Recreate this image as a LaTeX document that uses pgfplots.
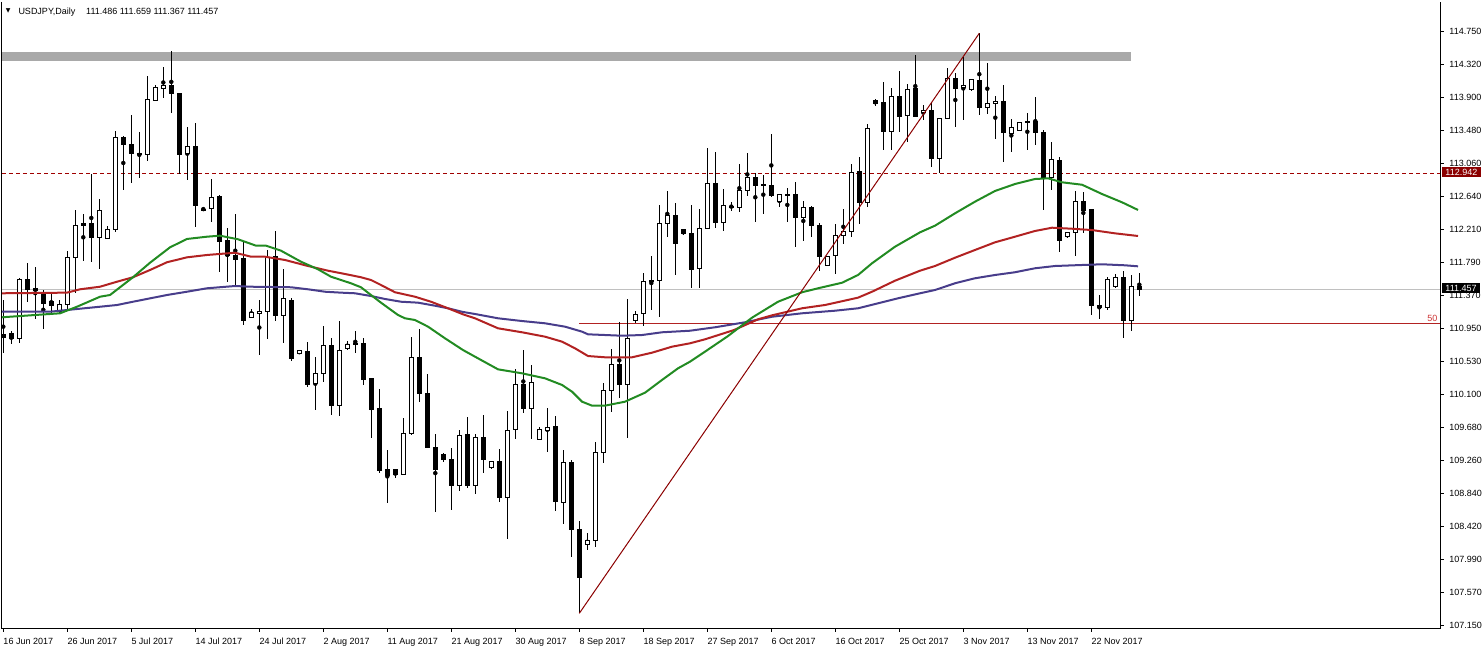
\documentclass[border=0pt]{standalone}
\usepackage{pgfplots}
\pgfplotsset{compat=1.18}
\usepackage{pgfplotstable}
\usepackage{fontspec}
\setmainfont{Liberation Sans}
\newfontfamily\dejavu{DejaVu Sans}
\definecolor{magreen}{HTML}{228B22}
\definecolor{mared}{HTML}{B22222}
\definecolor{manavy}{HTML}{483D8B}
\definecolor{dkred}{HTML}{8B0000}
\definecolor{dashred}{HTML}{A00000}
\definecolor{fibred}{HTML}{B22222}
\definecolor{fibtxt}{HTML}{CD3333}
\definecolor{bandgray}{HTML}{A9A9A9}
\definecolor{bidgray}{HTML}{C0C0C0}

\pgfplotstableread{
i o h l c
0 110.882 111.317 110.635 110.835
1 110.891 110.921 110.750 110.827
2 110.827 111.599 110.771 111.573
3 111.573 111.794 111.295 111.454
4 111.462 111.739 111.070 111.436
5 111.411 111.445 110.942 111.275
6 111.292 111.423 111.155 111.244
7 111.167 111.317 111.138 111.262
8 111.262 111.948 111.189 111.863
9 111.863 112.469 111.403 112.273
10 112.290 112.418 111.820 112.273
11 112.290 112.929 111.807 112.119
12 112.119 112.609 111.718 112.465
13 112.107 112.264 112.107 112.222
14 112.222 113.479 112.191 113.399
15 113.399 113.415 112.728 113.309
16 113.309 113.684 112.818 113.194
17 113.194 113.467 112.882 113.181
18 113.181 114.183 113.099 113.885
19 113.872 114.068 113.872 114.039
20 114.021 114.298 113.906 114.064
21 114.064 114.503 113.714 113.957
22 113.962 113.962 112.925 113.176
23 113.194 113.527 112.853 113.279
24 113.284 113.582 112.255 112.524
25 112.481 112.503 112.460 112.460
26 112.490 112.865 112.319 112.631
27 112.635 112.661 111.679 112.063
28 112.072 112.235 111.551 111.884
29 111.887 112.418 111.480 111.829
30 111.842 112.063 110.997 111.061
31 111.096 111.198 111.096 111.160
32 111.147 111.317 110.613 111.172
33 111.167 111.957 110.818 111.863
34 111.871 112.204 111.052 111.116
35 111.116 111.714 110.771 111.330
36 111.317 111.339 110.540 110.566
37 110.635 110.665 110.635 110.665
38 110.661 110.776 110.208 110.242
39 110.251 110.584 109.910 110.379
40 110.379 110.984 110.268 110.737
41 110.741 110.827 109.850 109.965
42 109.965 111.048 109.837 110.674
43 110.694 110.792 110.677 110.750
44 110.763 110.921 110.643 110.745
45 110.763 110.831 110.233 110.306
46 110.315 110.315 109.555 109.914
47 109.931 110.174 109.107 109.133
48 109.142 109.398 108.724 109.069
49 109.151 109.151 109.043 109.082
50 109.087 109.807 109.087 109.612
51 109.606 110.844 109.590 110.584
52 110.584 110.946 110.016 110.118
53 110.123 110.370 109.420 109.427
54 109.432 109.603 108.601 109.151
55 109.334 109.356 109.248 109.274
56 109.279 109.420 108.630 108.941
57 108.941 109.654 108.877 109.586
58 109.590 109.824 108.916 108.941
59 108.941 109.603 108.839 109.560
60 109.560 109.846 109.107 109.279
61 109.171 109.253 109.155 109.253
62 109.257 109.411 108.736 108.788
63 108.788 109.897 108.263 109.641
64 109.663 110.430 109.535 110.242
65 110.242 110.677 109.875 109.926
66 109.926 110.485 109.535 110.264
67 109.535 109.688 109.535 109.654
68 109.650 109.939 109.376 109.688
69 109.696 109.833 108.621 108.736
70 108.724 109.398 108.447 109.244
71 109.244 109.270 108.033 108.378
72 108.387 108.489 107.308 107.764
73 108.191 108.332 108.118 108.246
74 108.242 109.500 108.161 109.368
75 109.363 110.251 109.235 110.153
76 110.162 110.686 109.888 110.494
77 110.494 111.032 110.059 110.238
78 110.238 111.326 109.547 110.827
79 111.061 111.176 111.027 111.134
80 111.138 111.659 110.988 111.556
81 111.569 111.880 111.189 111.551
82 111.564 112.529 111.103 112.298
83 112.298 112.712 112.127 112.396
84 112.401 112.558 111.641 112.037
85 112.222 112.222 112.149 112.170
86 112.170 112.533 111.467 111.710
87 111.718 112.481 111.467 112.235
88 112.235 113.266 112.235 112.810
89 112.810 113.211 112.242 112.311
90 112.311 112.737 112.204 112.520
91 112.498 112.567 112.460 112.511
92 112.503 113.057 112.439 112.721
93 112.721 113.198 112.652 112.887
94 112.887 112.946 112.319 112.785
95 112.789 112.917 112.414 112.776
96 112.785 113.441 112.639 112.652
97 112.580 112.670 112.503 112.670
98 112.673 112.750 112.319 112.652
99 112.661 112.827 111.991 112.375
100 112.375 112.580 112.076 112.503
101 112.503 112.524 112.119 112.268
102 112.273 112.306 111.688 111.871
103 111.761 111.871 111.761 111.871
104 111.889 112.290 111.646 112.145
105 112.145 112.481 112.030 112.196
106 112.191 113.057 112.127 112.951
107 112.964 113.147 112.286 112.562
108 112.562 113.569 112.511 113.514
109 113.867 113.893 113.803 113.829
110 113.838 114.106 113.236 113.470
111 113.470 114.034 113.236 113.923
112 113.927 114.247 113.470 113.671
113 113.675 114.085 113.335 114.013
114 114.017 114.452 113.655 113.671
115 113.719 113.812 113.620 113.748
116 113.748 113.842 113.023 113.130
117 113.130 113.642 112.946 113.642
118 113.633 114.282 113.633 114.154
119 114.154 114.218 113.535 114.021
120 114.034 114.430 113.620 114.064
121 114.004 114.141 113.991 114.132
122 114.128 114.730 113.684 113.778
123 113.778 114.346 113.697 113.834
124 113.834 113.927 113.377 113.863
125 113.863 114.068 113.087 113.458
126 113.450 113.629 113.215 113.527
127 113.488 113.586 113.488 113.586
128 113.607 113.706 113.236 113.586
129 113.607 113.911 113.300 113.463
130 113.463 113.492 112.469 112.882
131 112.882 113.339 112.725 113.117
132 113.108 113.147 111.935 112.076
133 112.127 112.187 112.107 112.187
134 112.178 112.716 111.880 112.580
135 112.580 112.695 112.170 112.460
136 112.469 112.469 111.125 111.244
137 111.253 111.381 111.070 111.224
138 111.224 111.615 111.189 111.573
139 111.487 111.650 111.467 111.599
140 111.599 111.692 110.835 111.052
141 111.052 111.637 110.924 111.496
142 111.486 111.659 111.367 111.457
}\ohlc

\pgfplotsset{mtbase/.style={
  at={(2pt,21pt)}, anchor=south west, scale only axis,
  width=1438pt, height=626pt,
  xmin=-0.1625, xmax=179.5875, ymin=107.1203, ymax=115.1300,
}}

\begin{document}
\begin{tikzpicture}
\useasboundingbox (0,0) rectangle (1482pt,649pt);
% layer 1: frame, ticks, objects, wicks
\begin{axis}[mtbase, clip=false,
  axis line style={draw=none},
  tick align=outside, major tick length=3.5pt,
  tick style={black, line width=1pt},
  xtick pos=left, xticklabel pos=left,
  ytick pos=right, yticklabel pos=right,
  xtick={0,8,...,136},
  xticklabels={16 Jun 2017,26 Jun 2017,5 Jul 2017,14 Jul 2017,24 Jul 2017,2 Aug 2017,11 Aug 2017,21 Aug 2017,30 Aug 2017,8 Sep 2017,18 Sep 2017,27 Sep 2017,6 Oct 2017,16 Oct 2017,25 Oct 2017,3 Nov 2017,13 Nov 2017,22 Nov 2017},
  ytick={107.150,107.572,107.994,108.417,108.839,109.261,109.683,110.106,110.528,110.950,111.372,111.795,112.217,112.639,113.061,113.484,113.906,114.328,114.750},
  yticklabels={107.150,107.570,107.990,108.420,108.840,109.260,109.680,110.100,110.530,110.950,111.370,111.790,112.210,112.640,113.060,113.480,113.900,114.320,114.750},
  tick label style={font=\fontsize{9}{10}\selectfont, inner sep=0pt},
  xticklabel style={anchor=base west, yshift=-12.7pt},
  yticklabel style={anchor=base west, xshift=5.7pt, yshift=-3.2pt},
]
\addplot[draw=none, fill=bandgray] coordinates {(-0.1625,114.379) (140.96,114.379) (140.96,114.486) (-0.1625,114.486)} -- cycle;
\addplot[bidgray, line width=1pt] coordinates {(-0.1625,111.457) (179.5875,111.457)};
\addplot[dashred, line width=1pt, dash pattern=on 4pt off 3pt] coordinates {(-0.1625,112.942) (179.5875,112.942)};
\addplot[fibred, line width=1pt] coordinates {(72,111.019) (179.5875,111.019)};
\addplot[only marks, mark=none, error bars/.cd, y dir=both, y explicit, error mark=none,
  error bar style={draw=black, line width=1pt, solid}]
  table[x=i, y expr={(\thisrow{h}+\thisrow{l})/2}, y error expr={(\thisrow{h}-\thisrow{l})/2}] {\ohlc};
\draw[black, line width=1pt] (rel axis cs:0,1) -- (rel axis cs:0,0) -- (rel axis cs:1,0) -- (rel axis cs:1,1);
\end{axis}
% layer 2: candle bodies
\begin{axis}[mtbase, hide axis, ybar stacked, bar width=3.5pt]
\addplot[draw=none, fill=none] table[x=i, y expr={min(\thisrow{o},\thisrow{c})}] {\ohlc};
\addplot[draw=black, fill=white, line width=1pt] table[x=i, y expr={\thisrow{c}<\thisrow{o} ? 0 : \thisrow{c}-\thisrow{o}}] {\ohlc};
\addplot[draw=black, fill=black, line width=1pt] table[x=i, y expr={\thisrow{c}<\thisrow{o} ? \thisrow{o}-\thisrow{c} : 0}] {\ohlc};
\end{axis}
% layer 3: moving averages and trend line
\begin{axis}[mtbase, hide axis]
\addplot[manavy, line width=2pt, line join=round] coordinates {(-0.16,111.167) (5.84,111.167) (7.96,111.189) (12.09,111.231) (14.21,111.253) (16.21,111.295) (20.46,111.381) (22.96,111.423) (25.46,111.467) (28.96,111.496) (30.96,111.487) (35.96,111.480) (38.09,111.454) (40.21,111.423) (42.21,111.411) (43.96,111.403) (45.96,111.368) (47.71,111.330) (49.71,111.295) (51.84,111.283) (53.96,111.244) (55.59,111.211) (57.46,111.164) (58.96,111.138) (61.84,111.083) (64.84,111.048) (67.71,111.019) (70.21,110.976) (72.34,110.912) (73.09,110.878) (77.34,110.860) (79.84,110.869) (82.34,110.904) (85.84,110.924) (88.96,110.968) (92.71,111.032) (96.09,111.103) (99.84,111.147) (103.96,111.180) (106.84,111.211) (109.34,111.275) (111.84,111.339) (114.59,111.403) (116.46,111.445) (118.96,111.531) (121.46,111.595) (123.96,111.637) (126.46,111.672) (128.96,111.723) (131.46,111.752) (134.84,111.765) (137.34,111.774) (140.21,111.761) (141.84,111.748)};
\addplot[mared, line width=2pt, line join=round] coordinates {(-0.16,111.403) (7.96,111.411) (9.59,111.454) (12.09,111.487) (14.21,111.551) (16.21,111.608) (18.34,111.701) (20.46,111.800) (22.96,111.863) (25.46,111.893) (28.96,111.922) (30.96,111.871) (32.71,111.871) (35.21,111.829) (38.09,111.752) (40.59,111.692) (42.71,111.650) (44.71,111.608) (45.96,111.573) (47.21,111.509) (48.96,111.416) (51.46,111.359) (53.46,111.295) (55.59,111.211) (57.46,111.134) (58.96,111.083) (61.84,110.955) (64.84,110.904) (67.71,110.848) (69.84,110.784) (71.46,110.699) (73.09,110.600) (75.21,110.584) (78.59,110.584) (81.09,110.643) (83.59,110.720) (85.84,110.763) (87.71,110.814) (91.34,110.933) (94.34,111.070) (96.09,111.121) (99.84,111.211) (102.71,111.253) (106.84,111.347) (108.59,111.423) (111.46,111.564) (114.59,111.692) (116.46,111.752) (118.96,111.858) (121.46,111.957) (123.96,112.055) (126.46,112.127) (128.96,112.200) (131.09,112.242) (133.59,112.229) (136.09,112.212) (138.96,112.170) (141.84,112.136)};
\addplot[magreen, line width=2pt, line join=round] coordinates {(-0.16,111.096) (7.09,111.147) (9.21,111.231) (12.09,111.359) (13.34,111.381) (16.21,111.608) (18.34,111.794) (20.84,111.991) (22.96,112.098) (25.46,112.127) (27.09,112.140) (29.34,112.094) (31.59,112.012) (32.84,112.012) (34.71,111.948) (37.21,111.807) (39.34,111.710) (40.96,111.615) (43.46,111.531) (44.71,111.480) (45.96,111.381) (47.21,111.283) (49.34,111.125) (50.21,111.083) (51.46,111.061) (53.09,110.976) (55.21,110.827) (57.46,110.677) (58.96,110.592) (61.84,110.430) (64.84,110.379) (67.71,110.315) (69.84,110.230) (71.09,110.144) (72.34,110.016) (73.59,109.965) (75.21,109.965) (77.71,110.016) (80.21,110.131) (82.34,110.294) (84.34,110.443) (85.84,110.528) (87.71,110.656) (90.59,110.856) (93.59,111.091) (96.84,111.295) (99.84,111.416) (101.84,111.467) (104.84,111.538) (106.84,111.637) (108.59,111.787) (111.46,111.999) (114.59,112.183) (116.46,112.268) (118.96,112.426) (121.46,112.575) (123.96,112.712) (126.46,112.801) (128.96,112.865) (130.59,112.874) (132.34,112.823) (134.84,112.792) (137.34,112.673) (139.84,112.567) (141.84,112.469)};
\addplot[dkred, line width=1pt] coordinates {(72,107.308) (122,114.730)};
\coordinate (lvA) at (axis cs:179.5875,112.942);
\coordinate (lvB) at (axis cs:179.5875,111.457);
\end{axis}
\node[fill=dkred, text=white, anchor=west, inner xsep=3.5pt, inner ysep=2pt, text height=6.5pt, text depth=0pt, font=\fontsize{9}{10}\selectfont] at ([xshift=1.7pt,yshift=1pt]lvA) {112.942};
\node[fill=black, text=white, anchor=west, inner xsep=3.5pt, inner ysep=2pt, text height=6.5pt, text depth=0pt, font=\fontsize{9}{10}\selectfont] at ([xshift=1.7pt,yshift=1pt]lvB) {111.457};
\node[anchor=base east, text=fibtxt, inner sep=0pt, font=\fontsize{9}{10}\selectfont] at (1437.5pt,328pt) {50};
\node[inner sep=0pt, font=\dejavu\fontsize{6}{6}\selectfont] at (8.2pt,638.3pt) {▼};
\node[anchor=base west, inner sep=0pt, font=\fontsize{9}{10}\selectfont] at (18.3pt,634.7pt) {USDJPY,Daily};
\node[anchor=base west, inner sep=0pt, font=\fontsize{9}{10}\selectfont] at (86pt,634.7pt) {111.486 111.659 111.367 111.457};
\end{tikzpicture}
\end{document}
